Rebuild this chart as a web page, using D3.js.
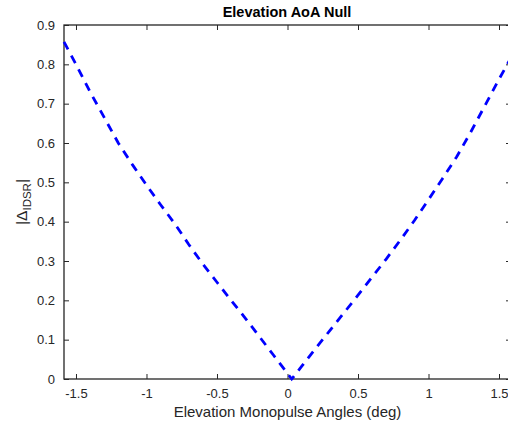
<!DOCTYPE html>
<html>
<head>
<meta charset="utf-8">
<script src="https://cdn.jsdelivr.net/npm/d3@7"></script>
<style>
  body { margin: 0; background: #fff; }
  svg { display: block; font-family: "Liberation Sans", Arial, sans-serif; }
</style>
</head>
<body>
<svg id="chart" width="508" height="427"></svg>
<script>
// angle (deg) vs |Delta_IDSR|
const angles = [-1.585, -1.5, -1.4, -1.3, -1.2, -1.1, -1.0, -0.9, -0.8, -0.7, -0.6, -0.5, -0.4, -0.3, -0.2, -0.1, 0.0, 0.03,
  0.1, 0.2, 0.3, 0.4, 0.5, 0.6, 0.7, 0.8, 0.9, 1.0, 1.1, 1.2, 1.3, 1.4, 1.5, 1.585];
const deltaIdsr = [0.857, 0.80, 0.73, 0.665, 0.60, 0.545, 0.493, 0.443, 0.395, 0.342, 0.292, 0.246, 0.200, 0.155, 0.108, 0.061, 0.014, 0.0,
  0.032, 0.078, 0.123, 0.168, 0.213, 0.259, 0.305, 0.353, 0.403, 0.456, 0.510, 0.565, 0.628, 0.695, 0.762, 0.817];
const xTicks = [-1.5, -1, -0.5, 0, 0.5, 1, 1.5];
const yTicks = [0, 0.1, 0.2, 0.3, 0.4, 0.5, 0.6, 0.7, 0.8, 0.9];

const svg = d3.select('#chart');
const margin = { top: 25, right: -3, bottom: 48, left: 64 };
const width = 508 - margin.left - margin.right;
const height = 427 - margin.top - margin.bottom;
const axisColour = '#262626';

const x = d3.scaleLinear().domain([-1.585, 1.585]).range([0, width]);
const y = d3.scaleLinear().domain([0, 0.9]).range([height, 0]);

// matlab style labels: plain hyphen for minus
const fmt = (d) => String(d);

const g = svg.append('g').attr('transform', `translate(${margin.left},${margin.top})`);

function styleAxis(sel) {
  sel.select('.domain').remove();
  sel.selectAll('.tick line').attr('stroke', axisColour);
  sel.selectAll('.tick text')
    .attr('fill', axisColour)
    .style('font-size', '13px');
}

g.append('g')
  .attr('transform', `translate(0,${height})`)
  .call(d3.axisBottom(x).tickValues(xTicks).tickSizeInner(-5).tickPadding(10).tickFormat(fmt))
  .call(styleAxis);

g.append('g')
  .call(d3.axisTop(x).tickValues(xTicks).tickSizeInner(-5).tickFormat(''))
  .call(styleAxis);

g.append('g')
  .call(d3.axisLeft(y).tickValues(yTicks).tickSizeInner(-5).tickPadding(9).tickFormat(fmt))
  .call(styleAxis);

g.append('g')
  .attr('transform', `translate(${width},0)`)
  .call(d3.axisRight(y).tickValues(yTicks).tickSizeInner(-5).tickFormat(''))
  .call(styleAxis);

// box
g.append('rect')
  .attr('x', 0).attr('y', 0)
  .attr('width', width).attr('height', height)
  .attr('fill', 'none')
  .attr('stroke', axisColour)
  .attr('stroke-width', 1.3);

const line = d3.line()
  .x((d, i) => x(angles[i]))
  .y((d) => y(d));

g.append('path')
  .datum(deltaIdsr)
  .attr('d', line)
  .attr('fill', 'none')
  .attr('stroke', '#0000ff')
  .attr('stroke-width', 2.8)
  .attr('stroke-dasharray', '8.5,7');

svg.append('text')
  .attr('x', 287)
  .attr('y', 17)
  .attr('text-anchor', 'middle')
  .style('font-size', '14.5px')
  .style('font-weight', 'bold')
  .attr('fill', '#000')
  .text('Elevation AoA Null');

svg.append('text')
  .attr('x', 287.5)
  .attr('y', 417)
  .attr('text-anchor', 'middle')
  .style('font-size', '15px')
  .attr('fill', axisColour)
  .text('Elevation Monopulse Angles (deg)');

const yLabel = svg.append('text')
  .attr('transform', `translate(27,${margin.top + height / 2}) rotate(-90)`)
  .attr('text-anchor', 'middle')
  .style('font-size', '15.5px')
  .attr('fill', axisColour);
yLabel.append('tspan').text('|Δ');
yLabel.append('tspan').attr('dy', 4).style('font-size', '11.5px').text('IDSR');
yLabel.append('tspan').attr('dy', -4).text('|');
</script>
</body>
</html>
